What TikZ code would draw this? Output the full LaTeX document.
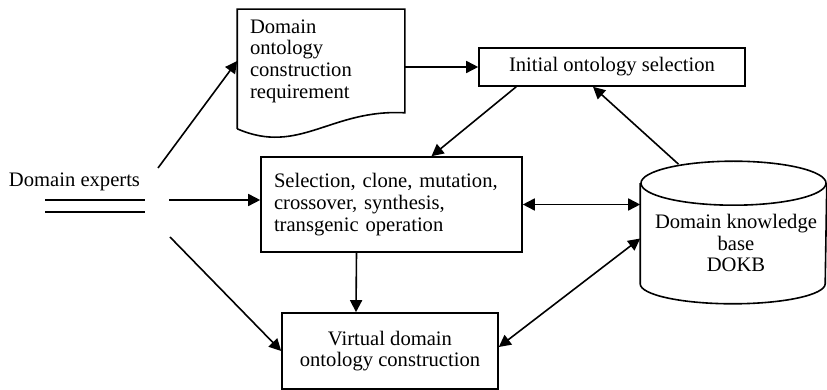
\documentclass[tikz,border=0pt]{standalone}
\usepackage{fontspec}
\setmainfont{Liberation Serif}
\usetikzlibrary{arrows.meta,calc}

\begin{document}
\begin{tikzpicture}[x=0.5pt,y=-0.5pt,line width=0.8pt,
  font=\fontsize{10.3}{10.8}\selectfont,
  box/.style={draw,rectangle,inner sep=0pt},
  arr/.style={-{Triangle[length=6pt,width=6pt]}},
  darr/.style={{Triangle[length=6pt,width=6pt]}-{Triangle[length=6pt,width=6pt]}}]
\useasboundingbox (0,0) rectangle (827,390);
\node (experts) at (74.5,182) {Domain experts};
\draw (45,200)--(145,200);
\draw (45,212)--(145,212);
\coordinate (ex1) at (158,168);
\coordinate (ex2) at (169,200);
\coordinate (ex3) at (170,237);
\node[align=left,text width=71pt,minimum width=83pt,minimum height=51pt,inner sep=0pt] (req) at (321,61) {Domain\\ontology\\construction\\requirement};
\draw ($(req.south west)+(0,16)$) -- (req.north west) -- (req.north east) -- (req.south east)
  .. controls ($(req.south east)+(-74,-4)$) and ($(req.south west)+(62,43)$) .. ($(req.south west)+(0,16)$);
\node[box,minimum width=133pt,minimum height=19pt] (init) at (612,67) {Initial ontology selection};
\node[box,align=left,text width=117.5pt,minimum width=130.5pt,minimum height=47.5pt] (sel) at (391.5,204.5) {Selection, clone, mutation,\\crossover, synthesis,\\transgenic operation};
\node[box,align=center,minimum width=108pt,minimum height=38pt] (virt) at (390,351) {Virtual domain\\ontology construction};
\node[minimum width=92.5pt,minimum height=70.5pt,inner sep=0pt] (db) at (733.5,232.5) {};
\node[align=center] (dbtxt) at (736,243) {Domain knowledge\\base\\DOKB};
\draw ($(db.north)+(0,22)$) ellipse [x radius=46.25pt,y radius=11pt];
\draw ($(db.north west)+(0,22)$) -- ($(db.south west)+(0,-20)$)
  arc [start angle=180,end angle=360,x radius=46.25pt,y radius=10pt] -- ($(db.north east)+(0,22)$);
\draw[arr] (ex1) -- (req.west);
\draw[arr] (ex2) -- (ex2 -| sel.west);
\draw[arr] (ex3) -- (virt.west);
\draw[arr] (init.west -| req.east) -- (init.west);
\draw[arr] ($(init.south west)+(38,0)$) -- ($(sel.north)+(40,0)$);
\draw[arr] ($(db.north)+(-55,3)$) -- ($(init.south)+(-19,0)$);
\draw[arr] ($(sel.south)+(-35,0)$) -- ($(virt.north)+(-34,0)$);
\draw[darr] (sel.east) -- (sel.east -| db.west);
\draw[darr] ($(virt.east)+(0,-4)$) -- ($(db.west)+(0,6)$);
\end{tikzpicture}
\end{document}
